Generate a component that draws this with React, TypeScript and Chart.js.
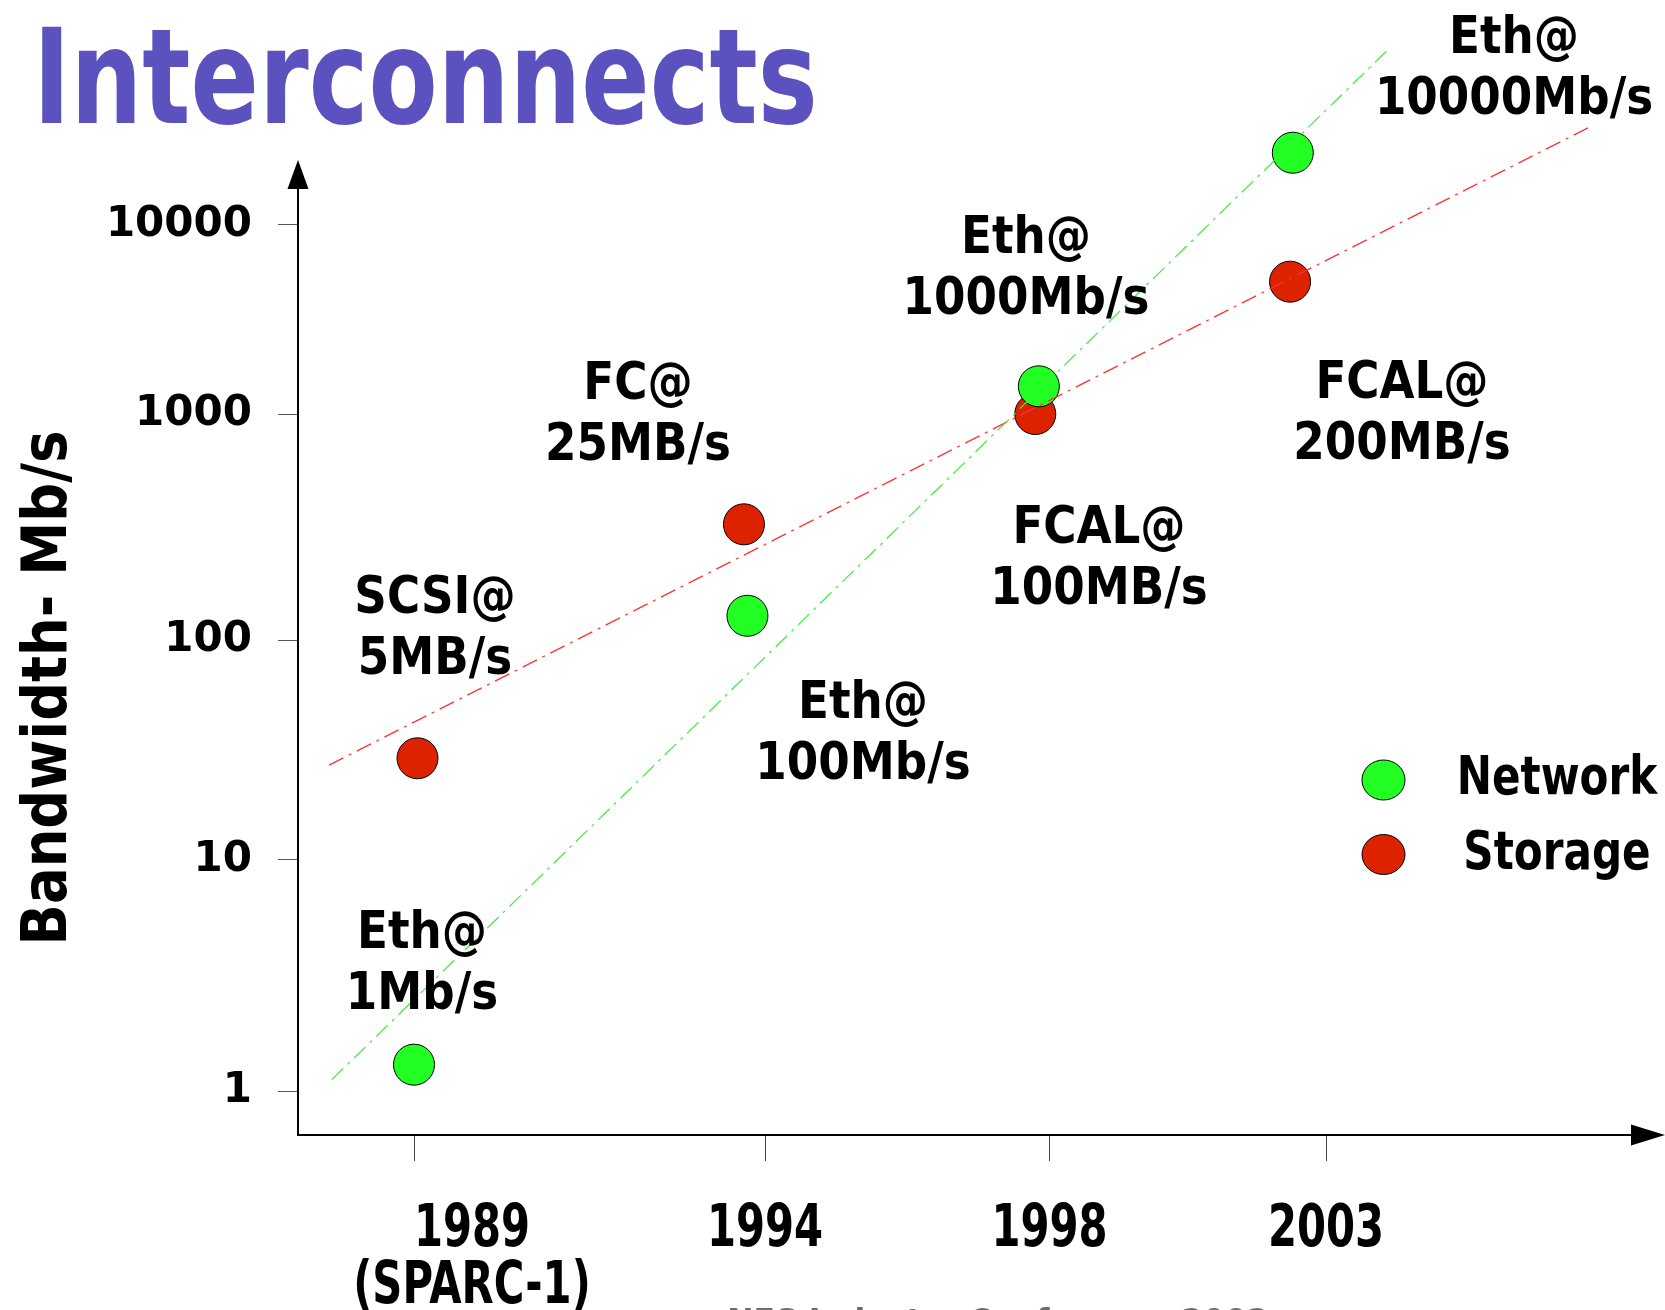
import React, { useEffect, useRef } from 'react';
import { Chart, registerables } from 'chart.js';

Chart.register(...registerables);

// ---------- data ----------
const X_TICK_YEARS = [1989, 1994, 1998, 2003];
const X_TICK_LABELS = [['1989', '(SPARC-1)'], ['1994'], ['1998'], ['2003']];
const Y_TICK_VALUES = [1, 10, 100, 1000, 10000];
const Y_TICK_LABELS = ['1', '10', '100', '1000', '10000'];

const NETWORK_YEARS = [1989.0, 1993.75, 1997.85, 2002.4];
const NETWORK_MBPS = [1.3, 128, 1400, 24000];
const STORAGE_YEARS = [1989.05, 1993.7, 1997.8, 2002.35];
const STORAGE_MBPS = [29, 325, 1000, 5000];

const NETWORK_TREND_YEARS = [1987.83, 2004.12];
const NETWORK_TREND_MBPS = [1.12, 84000];
const STORAGE_TREND_YEARS = [1987.79, 2007.74];
const STORAGE_TREND_MBPS = [27, 32500];

const SERIES_NAMES = ['Network', 'Storage'];

const ANNOTATION_TEXTS = [
  ['Eth@', '1Mb/s'],
  ['SCSI@', '5MB/s'],
  ['FC@', '25MB/s'],
  ['Eth@', '100Mb/s'],
  ['Eth@', '1000Mb/s'],
  ['FCAL@', '100MB/s'],
  ['FCAL@', '200MB/s'],
  ['Eth@', '10000Mb/s'],
];

// ---------- layout / style ----------
// the slide's axes are hand drawn: tick spacing is not uniform
const X_AXIS_KNOTS = [1989, 1994, 1998, 2003];
const X_AXIS_SPANS = [0, 351, 635.5, 912];
const Y_AXIS_KNOTS = [0, 1, 2, 3, 4];
const Y_AXIS_SPANS = [0, 231, 451, 677, 866.3];
const X_MIN = -116;
const X_MAX = 1218;
const Y_MIN = -44;
const Y_MAX = 991;

const AREA = { left: 298, right: 1632, top: 100, bottom: 1135 };
const Y_ARROW_TIP = 160;
const Y_ARROW_BASE = 188;
const W = 1665;
const H = 1310;

const ANNOTATION_ANCHORS = [
  [422, 948],
  [435, 613],
  [638, 399],
  [863, 718],
  [1026, 253],
  [1099, 543],
  [1402, 398],
  [1514, 53],
];
const X_LABEL_SHIFT = [58, 0, 0, 0];

const GREEN = '#22ff22';
const RED = '#dd2200';
const GREEN_LINE = '#3aef3a';
const RED_LINE = '#ff3030';
const TITLE_COLOR = '#5b51bf';
const FONT = '"DejaVu Sans", "Liberation Sans", sans-serif';

function piecewise(v: number, keys: number[], spans: number[]) {
  const n = keys.length;
  let i = 0;
  if (v >= keys[n - 1]) i = n - 2;
  else if (v > keys[0]) {
    while (v > keys[i + 1]) i++;
  }
  const t = (v - keys[i]) / (keys[i + 1] - keys[i]);
  return spans[i] + t * (spans[i + 1] - spans[i]);
}
const warpX = (year: number) => piecewise(year, X_AXIS_KNOTS, X_AXIS_SPANS);
const warpY = (mbps: number) => piecewise(Math.log10(mbps), Y_AXIS_KNOTS, Y_AXIS_SPANS);

const toPoints = (xs: number[], ys: number[]) => xs.map((x, i) => ({ x: warpX(x), y: warpY(ys[i]) }));

function drawText(
  ctx: CanvasRenderingContext2D,
  text: string,
  x: number,
  y: number,
  size: number,
  squeeze: number,
  align: CanvasTextAlign = 'center',
  color = '#000'
) {
  ctx.save();
  ctx.font = `bold ${size}px ${FONT}`;
  ctx.fillStyle = color;
  ctx.textBaseline = 'alphabetic';
  ctx.textAlign = align;
  ctx.translate(x, y);
  ctx.scale(squeeze, 1);
  ctx.fillText(text, 0, 0);
  ctx.restore();
}

const slidePlugin = {
  id: 'slideDecor',
  afterDraw(chart: any) {
    const ctx: CanvasRenderingContext2D = chart.ctx;
    const xs = chart.scales.x;
    const area = chart.chartArea;

    // y axis line + arrow heads
    ctx.save();
    ctx.strokeStyle = '#000';
    ctx.lineWidth = 2;
    ctx.beginPath();
    ctx.moveTo(area.left, Y_ARROW_BASE);
    ctx.lineTo(area.left, area.bottom + 1);
    ctx.stroke();
    ctx.fillStyle = '#000';
    ctx.beginPath();
    ctx.moveTo(area.left, Y_ARROW_TIP);
    ctx.lineTo(area.left - 10.5, Y_ARROW_BASE + 1);
    ctx.lineTo(area.left + 10.5, Y_ARROW_BASE + 1);
    ctx.closePath();
    ctx.fill();
    ctx.beginPath();
    ctx.moveTo(W, area.bottom);
    ctx.lineTo(area.right - 1, area.bottom - 10.5);
    ctx.lineTo(area.right - 1, area.bottom + 10.5);
    ctx.closePath();
    ctx.fill();
    ctx.restore();

    // title
    drawText(ctx, 'Interconnects', 33, 123, 132, 0.764, 'left', TITLE_COLOR);

    // y axis title
    ctx.save();
    ctx.translate(66, 688);
    ctx.rotate(-Math.PI / 2);
    drawText(ctx, 'Bandwidth- Mb/s', 0, 0, 62, 0.877);
    ctx.restore();

    // x tick labels
    X_TICK_YEARS.forEach((yr, i) => {
      const px = xs.getPixelForValue(warpX(yr)) + X_LABEL_SHIFT[i];
      X_TICK_LABELS[i].forEach((line, j) => {
        drawText(ctx, line, px, 1246 + j * 57, 58, 0.72);
      });
    });

    // annotations
    ANNOTATION_TEXTS.forEach((lines, i) => {
      const [cx, by] = ANNOTATION_ANCHORS[i];
      lines.forEach((line, j) => drawText(ctx, line, cx, by + j * 61, 52, 0.87));
    });

    // legend
    const legendSets = chart.data.datasets.filter((d: any) => SERIES_NAMES.includes(d.label));
    legendSets.forEach((d: any, i: number) => {
      const cy = 780 + i * 74.5;
      ctx.save();
      ctx.beginPath();
      ctx.ellipse(1383.5, cy, 21.5, 20, 0, 0, Math.PI * 2);
      ctx.fillStyle = d.backgroundColor;
      ctx.fill();
      ctx.lineWidth = 1;
      ctx.strokeStyle = '#000';
      ctx.stroke();
      ctx.restore();
      drawText(ctx, d.label, 1557, cy + 14, 54, 0.78);
    });

    // footer (cut off by the page edge)
    drawText(ctx, 'NFS Industry Conference 2002', 998, 1334, 35, 0.9, 'center', '#6e6e6e');
  },
};

export default function App() {
  const ref = useRef<HTMLCanvasElement | null>(null);

  useEffect(() => {
    if (!ref.current) return;
    const trendCommon = {
      type: 'line' as const,
      showLine: true,
      borderWidth: 1.2,
      borderDash: [16, 6, 3, 6],
      pointRadius: 0,
      fill: false,
      clip: false as const,
      order: 0,
    };
    const pointCommon = {
      type: 'scatter' as const,
      showLine: false,
      pointRadius: 20.5,
      pointHoverRadius: 20.5,
      borderColor: '#000',
      borderWidth: 1,
      clip: false as const,
      order: 1,
    };
    const chart = new Chart(ref.current, {
      type: 'scatter',
      data: {
        datasets: [
          {
            ...trendCommon,
            label: 'Network trend',
            data: toPoints(NETWORK_TREND_YEARS, NETWORK_TREND_MBPS),
            borderColor: GREEN_LINE,
          },
          {
            ...trendCommon,
            label: 'Storage trend',
            data: toPoints(STORAGE_TREND_YEARS, STORAGE_TREND_MBPS),
            borderColor: RED_LINE,
          },
          {
            ...pointCommon,
            label: SERIES_NAMES[0],
            data: toPoints(NETWORK_YEARS, NETWORK_MBPS),
            backgroundColor: GREEN,
            pointBackgroundColor: GREEN,
          },
          {
            ...pointCommon,
            label: SERIES_NAMES[1],
            data: toPoints(STORAGE_YEARS, STORAGE_MBPS),
            backgroundColor: RED,
            pointBackgroundColor: RED,
          },
        ] as any,
      },
      options: {
        responsive: false,
        animation: false,
        events: [],
        layout: {
          padding: { left: 0, top: AREA.top, right: W - AREA.right, bottom: 0 },
        },
        plugins: {
          legend: { display: false },
          title: { display: false },
          tooltip: { enabled: false },
        },
        scales: {
          x: {
            type: 'linear',
            min: X_MIN,
            max: X_MAX,
            afterBuildTicks: (scale: any) => {
              scale.ticks = X_TICK_YEARS.map((yr) => ({ value: warpX(yr) }));
            },
            afterFit: (scale: any) => {
              scale.height = H - AREA.bottom;
            },
            ticks: { display: false },
            grid: {
              display: true,
              drawOnChartArea: false,
              drawTicks: true,
              tickLength: 26,
              color: '#444',
              lineWidth: 1,
            },
            border: { display: true, color: '#000', width: 2 },
          },
          y: {
            type: 'linear',
            min: Y_MIN,
            max: Y_MAX,
            afterBuildTicks: (scale: any) => {
              scale.ticks = Y_TICK_VALUES.map((v) => ({ value: warpY(v) }));
            },
            afterFit: (scale: any) => {
              scale.width = AREA.left;
            },
            ticks: {
              callback: (_v: any, i: number) => Y_TICK_LABELS[i],
              font: { family: FONT, size: 42, weight: 'bold' },
              color: '#000',
              padding: 26,
              autoSkip: false,
            },
            grid: {
              display: true,
              drawOnChartArea: false,
              drawTicks: true,
              tickLength: 20,
              color: '#555',
              lineWidth: 1,
            },
            border: { display: false },
          },
        },
      } as any,
      plugins: [slidePlugin],
    });
    return () => chart.destroy();
  }, []);

  return (
    <div style={{ position: 'fixed', left: 0, top: 0, width: W, height: H, background: '#fff', overflow: 'hidden' }}>
      <canvas ref={ref} width={W} height={H} style={{ display: 'block' }} />
    </div>
  );
}
